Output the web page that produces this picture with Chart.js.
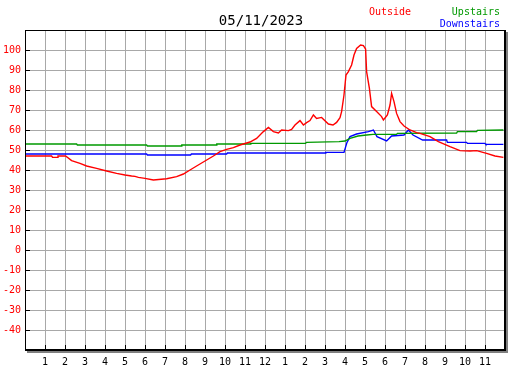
<!DOCTYPE html>
<html>
<head>
<meta charset="utf-8">
<script src="https://cdn.jsdelivr.net/npm/chart.js"></script>
<style>
  body { margin: 0; background: #fff; }
  canvas { display: block; }
</style>
</head>
<body>
<canvas id="canvas" width="527" height="370"></canvas>
<script>
const chartTitle = '05/11/2023'
const seriesNames = ['Outside', 'Upstairs', 'Downstairs']

// hour labels under the x axis (0 .. 24)
const hourLabels = ['', '1', '2', '3', '4', '5', '6', '7', '8', '9', '10', '11', '12',
  '1', '2', '3', '4', '5', '6', '7', '8', '9', '10', '11', '']

const outsideHours = [0, 1.33, 1.38, 1.6, 1.65, 2.03, 2.33, 2.75, 3.08, 3.58, 4.08, 4.58, 5.0, 5.33, 5.5, 5.67, 6.0, 6.42,
  7.08, 7.58, 7.92, 8.25, 8.58, 9.0, 9.42, 9.75, 10.08, 10.42, 10.75, 11.25, 11.58, 11.92, 12.17, 12.42, 12.67, 12.83,
  13.17, 13.33, 13.5, 13.75, 13.92, 14.08, 14.25, 14.42, 14.58, 14.83, 15.17, 15.4, 15.58, 15.75, 15.83, 15.95, 16.05,
  16.17, 16.33, 16.45, 16.58, 16.78, 16.92, 17.03, 17.08, 17.22, 17.33, 17.58, 17.83, 17.92, 18.12, 18.25, 18.33, 18.45,
  18.58, 18.75, 18.95, 19.25, 19.58, 19.75, 20.25, 20.67, 21.25, 21.75, 22.25, 22.58, 23.08, 23.5, 23.92]
const outsideTemps = [47, 47, 46.3, 46.3, 47, 47, 44.7, 43.3, 42, 40.8, 39.5, 38.3, 37.5, 37, 36.8, 36.3, 35.8, 35,
  35.6, 36.7, 38, 40, 42, 44.5, 47, 49.2, 50.3, 51.2, 52.5, 54, 55.8, 59.2, 61.3, 59.2, 58.5, 60,
  59.7, 60.3, 62.5, 64.7, 62.5, 63.7, 64.7, 67.5, 65.8, 66.3, 63, 62.5, 63.8, 66.2, 69.2, 77.5, 87.5,
  89.2, 92.5, 97.5, 100.8, 102.5, 102.2, 100.5, 89.2, 80.8, 71.7, 69.2, 66.7, 65, 67.5, 72.5, 78.3, 74.2,
  68.3, 64.2, 62, 60, 58.7, 58.3, 56.7, 54.2, 51.7, 49.7, 49.5, 49.7, 48.3, 47, 46.3]

const upstairsHours = [0, 2.58, 2.62, 6.08, 6.12, 7.8, 7.84, 9.55, 9.59, 11.25, 11.29, 14.03, 14.07, 15.7, 16.0, 16.25,
  16.65, 17.08, 17.4, 18.58, 18.62, 21.58, 21.62, 22.58, 22.62, 23.92]
const upstairsTemps = [53, 53, 52.5, 52.5, 52, 52, 52.5, 52.5, 53, 53, 53.3, 53.3, 53.8, 54.2, 54.5, 55.8,
  57, 57.5, 57.8, 57.8, 58.3, 58.5, 59.2, 59.2, 59.8, 60]

const downstairsHours = [0, 6.08, 6.12, 8.28, 8.32, 10.08, 10.12, 15.0, 15.04, 15.95, 16.1, 16.25, 16.58, 17.17, 17.42,
  17.6, 18.08, 18.33, 18.95, 19.17, 19.4, 19.88, 21.08, 21.12, 22.08, 22.12, 23.0, 23.04, 23.92]
const downstairsTemps = [48, 48, 47.5, 47.5, 48, 48, 48.5, 48.5, 48.8, 48.8, 53.8, 56.7, 58, 59.2, 60,
  56.7, 54.5, 57, 57.5, 60, 57.5, 55, 55, 53.8, 53.8, 53.3, 53.3, 52.8, 52.8]

function pairs(xs, ys) {
  return xs.map((x, i) => ({ x: x, y: ys[i] }))
}

const mono = 'DejaVu Sans Mono'

// frame with shadow, small inner ticks, title and legend text
const decor = {
  id: 'decor',
  afterDraw(chart) {
    const c = chart.ctx
    const a = chart.chartArea
    const xs = chart.scales.x
    const ys = chart.scales.y
    c.save()
    // shadow
    c.fillStyle = '#808080'
    c.fillRect(a.right + 1, a.top + 2, 2, a.bottom - a.top + 1)
    c.fillRect(a.left + 2, a.bottom + 1, a.right - a.left + 1, 2)
    // frame
    c.strokeStyle = '#000'
    c.lineWidth = 1
    c.strokeRect(a.left + 0.5, a.top + 0.5, a.right - a.left, a.bottom - a.top)
    c.beginPath()
    c.moveTo(a.right - 0.5, a.top); c.lineTo(a.right - 0.5, a.bottom + 1)
    c.moveTo(a.left, a.bottom - 0.5); c.lineTo(a.right + 1, a.bottom - 0.5)
    c.stroke()
    // ticks
    c.beginPath()
    for (let v = -40; v <= 100; v += 10) {
      const py = Math.round(ys.getPixelForValue(v)) + 0.5
      c.moveTo(a.left, py); c.lineTo(a.left + 5, py)
    }
    for (let h = 1; h < 24; h++) {
      const px = Math.round(xs.getPixelForValue(h)) + 0.5
      c.moveTo(px, a.bottom); c.lineTo(px, a.bottom - 5)
    }
    c.stroke()
    // title
    c.fillStyle = '#000'
    c.font = '14px ' + mono
    c.textAlign = 'center'
    c.textBaseline = 'alphabetic'
    c.fillText(chartTitle, 261, 25)
    // legend
    c.font = '10px ' + mono
    c.textAlign = 'left'
    c.fillStyle = '#ff0000'
    c.fillText(seriesNames[0], 369, 15)
    c.textAlign = 'right'
    c.fillStyle = '#009900'
    c.fillText(seriesNames[1], 500, 15)
    c.fillStyle = '#0000ff'
    c.fillText(seriesNames[2], 500, 27)
    c.restore()
  }
}

const ctx = document.getElementById('canvas')

new Chart(ctx, {
  type: 'line',
  data: {
    datasets: [
      {
        label: seriesNames[0],
        data: pairs(outsideHours, outsideTemps),
        borderColor: '#ff0000',
        borderWidth: 1.4,
        pointRadius: 0
      },
      {
        label: seriesNames[1],
        data: pairs(upstairsHours, upstairsTemps),
        borderColor: '#009900',
        borderWidth: 1.4,
        pointRadius: 0
      },
      {
        label: seriesNames[2],
        data: pairs(downstairsHours, downstairsTemps),
        borderColor: '#0000ff',
        borderWidth: 1.4,
        pointRadius: 0
      }
    ]
  },
  options: {
    responsive: false,
    animation: false,
    elements: { line: { tension: 0 } },
    layout: { padding: { left: 0, top: 30, right: 22, bottom: 0 } },
    plugins: {
      legend: { display: false },
      title: { display: false },
      tooltip: { enabled: false }
    },
    scales: {
      x: {
        type: 'linear',
        min: 0,
        max: 24,
        afterFit: (s) => { s.height = 20 },
        border: { display: false },
        grid: { color: '#a8a8a8', lineWidth: 1, drawTicks: false },
        ticks: {
          stepSize: 1,
          autoSkip: false,
          maxRotation: 0,
          padding: 6,
          color: '#000',
          font: { family: mono, size: 10 },
          callback: (v) => hourLabels[v]
        }
      },
      y: {
        min: -50,
        max: 110,
        afterFit: (s) => { s.width = 25 },
        border: { display: false },
        grid: { color: '#a8a8a8', lineWidth: 1, drawTicks: false },
        ticks: {
          stepSize: 10,
          padding: 4,
          color: '#ff0000',
          font: { family: mono, size: 10 },
          callback: (v) => (v <= -50 || v >= 110) ? '' : v
        }
      }
    }
  },
  plugins: [decor]
});
</script>
</body>
</html>
